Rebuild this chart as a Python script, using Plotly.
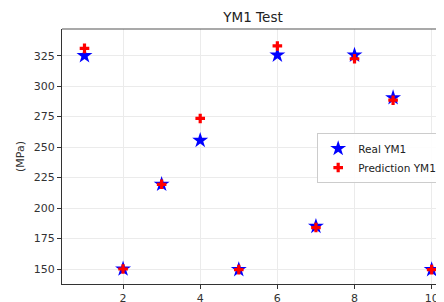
import plotly.graph_objects as go

x_vals = [1, 2, 3, 4, 5, 6, 7, 8, 9, 10]
real_ym1 = [325, 150, 219.5, 255.5, 149.5, 325.5, 185, 325.5, 290.5, 149.5]
pred_ym1 = [331, 150, 219.5, 273.5, 149.5, 333, 184, 322.5, 288.5, 149.5]

fig = go.Figure()
fig.add_trace(go.Scatter(x=x_vals, y=real_ym1, mode="markers", name="Real YM1",
                         marker=dict(symbol="star", size=12, color="blue", line=dict(width=0))))
fig.add_trace(go.Scatter(x=x_vals, y=pred_ym1, mode="markers", name="Prediction YM1",
                         marker=dict(symbol="cross", size=8, color="red", line=dict(width=0))))

axis_font = dict(family="DejaVu Sans", size=11, color="#333333")
fig.update_layout(
    width=436, height=294,
    margin=dict(l=54, r=0, t=21, b=18, autoexpand=False),
    paper_bgcolor="white", plot_bgcolor="white",
    title=dict(text="YM1 Test", x=0.562, xanchor="center", y=0.969, yanchor="middle",
               font=dict(family="DejaVu Sans", size=13.5, color="#222222")),
    font=dict(family="DejaVu Sans"),
    showlegend=True,
    legend=dict(x=0.668, y=0.592, xanchor="left", yanchor="top",
                bgcolor="rgba(255,255,255,0.9)", bordercolor="#cccccc", borderwidth=1,
                font=dict(family="DejaVu Sans", size=10.5, color="#222222"),
                tracegroupgap=0),
)
fig.update_xaxes(range=[0.417, 10.32], tickvals=[2, 4, 6, 8, 10], automargin=False,
                 showgrid=True, gridcolor="#ebebeb", gridwidth=1,
                 showline=True, linecolor="#333333", linewidth=1.2, mirror=False,
                 ticks="outside", ticklen=4, tickcolor="#333333", tickfont=axis_font,
                 zeroline=False)
fig.update_yaxes(range=[137.7, 346.9], tickvals=[150, 175, 200, 225, 250, 275, 300, 325],
                 automargin=False,
                 showgrid=True, gridcolor="#ebebeb", gridwidth=1,
                 showline=True, linecolor="#333333", linewidth=1.2,
                 ticks="outside", ticklen=4, tickcolor="#333333", tickfont=axis_font,
                 title=dict(text="(MPa)", font=dict(family="DejaVu Sans", size=11, color="#333333"), standoff=6),
                 zeroline=False)
# top spine
fig.add_shape(type="line", xref="paper", yref="paper", x0=0, x1=1, y0=1, y1=1,
              line=dict(color="#555555", width=1.2))
fig.write_html("out.html")
